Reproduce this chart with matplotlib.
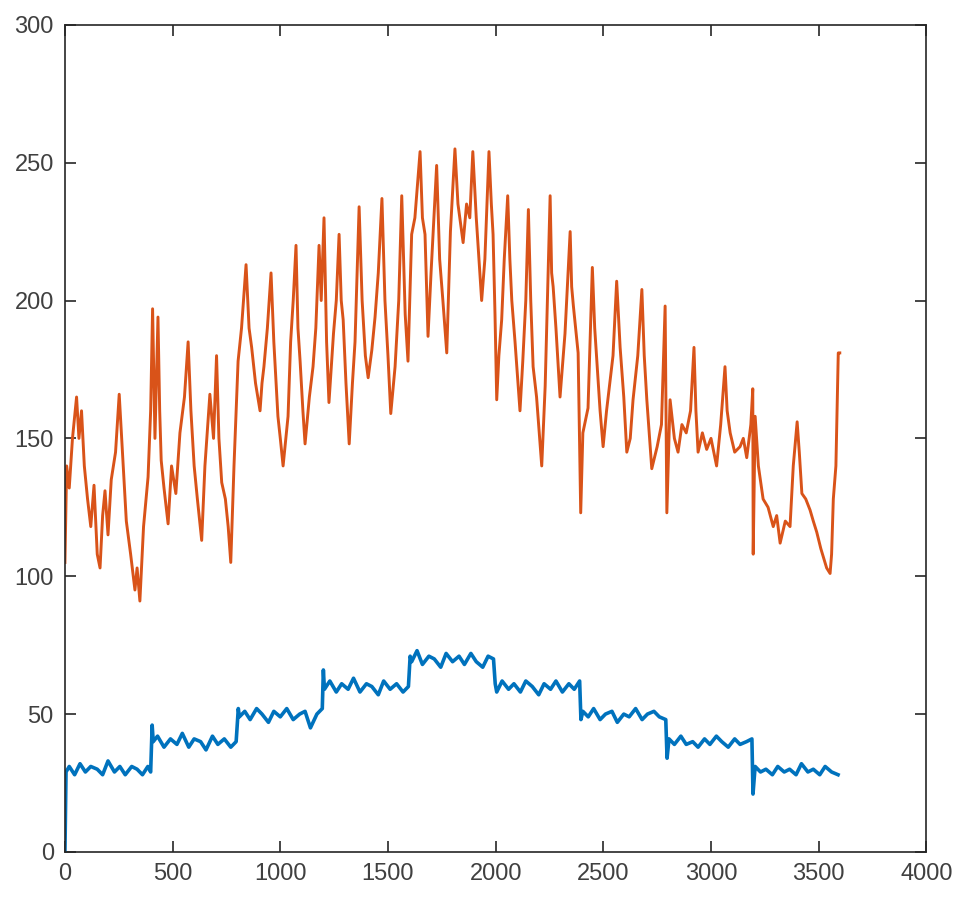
import matplotlib
matplotlib.use("Agg")
import matplotlib.pyplot as plt

# Stepped reference signal (blue)
blue_x = [0, 5, 20, 45, 70, 95, 120, 150, 175, 200, 230, 255, 280, 310, 335, 360, 385, 398,
          405, 410, 430, 460, 490, 520, 545, 575, 600, 630, 655, 685, 710, 740, 770, 795,
          805, 810, 835, 860, 890, 915, 945, 970, 1000, 1030, 1060, 1090, 1115, 1140, 1170, 1195,
          1200, 1205, 1230, 1260, 1285, 1315, 1340, 1370, 1400, 1425, 1455, 1480, 1510, 1540, 1570, 1595,
          1603, 1610, 1635, 1660, 1690, 1715, 1745, 1770, 1800, 1830, 1855, 1885, 1910, 1940, 1965, 1990,
          1998, 2005, 2030, 2060, 2085, 2115, 2140, 2170, 2200, 2225, 2255, 2280, 2310, 2340, 2365, 2390,
          2396, 2405, 2430, 2455, 2485, 2510, 2540, 2565, 2595, 2620, 2650, 2680, 2705, 2735, 2760, 2790,
          2796, 2805, 2830, 2860, 2885, 2915, 2940, 2970, 2995, 3025, 3050, 3080, 3110, 3135, 3165, 3190,
          3195, 3205, 3230, 3255, 3285, 3310, 3340, 3365, 3395, 3420, 3450, 3475, 3505, 3530, 3560, 3590]
blue_y = [0, 29, 31, 28, 32, 29, 31, 30, 28, 33, 29, 31, 28, 31, 30, 28, 31, 29,
          46, 40, 42, 38, 41, 39, 43, 38, 41, 40, 37, 42, 39, 41, 38, 40,
          52, 49, 51, 48, 52, 50, 47, 51, 49, 52, 48, 50, 51, 45, 50, 52,
          66, 59, 62, 58, 61, 59, 63, 58, 61, 60, 57, 62, 59, 61, 58, 60,
          71, 69, 73, 68, 71, 70, 67, 72, 69, 71, 68, 72, 69, 67, 71, 70,
          61, 58, 62, 59, 61, 58, 62, 60, 57, 61, 59, 62, 58, 61, 59, 62,
          48, 51, 49, 52, 48, 50, 51, 47, 50, 49, 52, 48, 50, 51, 49, 48,
          34, 41, 39, 42, 39, 40, 38, 41, 39, 42, 40, 38, 41, 39, 40, 41,
          21, 31, 29, 30, 28, 31, 29, 30, 28, 32, 29, 30, 28, 31, 29, 28]

# Measured response (orange)
orange_x = [0, 8, 20, 35, 54, 65, 77, 90, 105, 120, 135, 150, 163, 175, 186, 200, 215, 235,
            252, 265, 285, 305, 325, 335, 348, 365, 386, 398, 407, 418, 432, 440, 447, 460,
            479, 495, 515, 534, 555, 572, 585, 600, 615, 635, 650, 673, 690, 704, 715, 728,
            745, 758, 770, 785, 804, 820, 841, 855, 867, 885, 906, 915, 924, 940, 957, 970,
            989, 1000, 1013, 1036, 1048, 1060, 1073, 1082, 1092, 1105, 1115, 1135, 1152, 1165,
            1180, 1190, 1203, 1215, 1226, 1247, 1260, 1273, 1283, 1292, 1305, 1320, 1335, 1347,
            1366, 1380, 1395, 1408, 1425, 1440, 1455, 1472, 1486, 1500, 1513, 1533, 1550, 1564,
            1580, 1593, 1610, 1625, 1649, 1660, 1672, 1686, 1700, 1726, 1740, 1755, 1773, 1790,
            1811, 1825, 1849, 1865, 1880, 1894, 1910, 1935, 1950, 1969, 1980, 1988, 1997, 2005,
            2015, 2028, 2040, 2056, 2066, 2075, 2090, 2113, 2126, 2140, 2152, 2163, 2174, 2190,
            2214, 2230, 2253, 2260, 2267, 2280, 2299, 2322, 2346, 2353, 2361, 2383, 2395, 2405,
            2429, 2449, 2460, 2470, 2485, 2499, 2515, 2530, 2545, 2562, 2578, 2595, 2609, 2625,
            2638, 2660, 2679, 2690, 2702, 2725, 2750, 2770, 2787, 2795, 2810, 2830, 2847, 2865,
            2885, 2905, 2921, 2930, 2940, 2960, 2980, 3000, 3026, 3045, 3065, 3075, 3089, 3110,
            3135, 3150, 3166, 3185, 3194, 3196, 3205, 3220, 3242, 3265, 3289, 3305, 3321, 3345,
            3367, 3382, 3400, 3410, 3422, 3440, 3460, 3475, 3491, 3510, 3537, 3553, 3560, 3568,
            3580, 3591, 3598]
orange_y = [105, 140, 132, 150, 165, 150, 160, 140, 128, 118, 133, 108, 103, 122, 131, 115, 135, 145,
            166, 148, 120, 108, 95, 103, 91, 118, 136, 160, 197, 150, 194, 160, 142, 132,
            119, 140, 130, 152, 165, 185, 160, 140, 128, 113, 140, 166, 150, 180, 150, 134,
            128, 118, 105, 140, 178, 190, 213, 190, 183, 170, 160, 170, 176, 190, 210, 185,
            158, 150, 140, 158, 185, 200, 220, 190, 178, 160, 148, 165, 176, 190,
            220, 200, 230, 185, 163, 188, 200, 224, 200, 193, 170, 148, 170, 185,
            234, 200, 180, 172, 182, 194, 210, 237, 200, 180, 159, 176, 200, 238,
            195, 178, 224, 230, 254, 230, 224, 187, 210, 249, 215, 200, 181, 225,
            255, 235, 221, 235, 230, 254, 230, 200, 215, 254, 235, 224, 195, 164,
            180, 193, 215, 238, 215, 200, 185, 160, 178, 200, 233, 200, 176, 165,
            140, 169, 238, 210, 205, 190, 165, 188, 225, 205, 198, 181, 123, 152,
            161, 212, 190, 178, 160, 147, 160, 170, 180, 207, 183, 165, 145, 150,
            164, 180, 204, 180, 164, 139, 147, 155, 198, 123, 164, 150, 145, 155,
            152, 160, 183, 160, 145, 152, 146, 150, 140, 155, 176, 160, 152, 145,
            147, 150, 143, 155, 168, 108, 158, 140, 128, 125, 118, 122, 112, 120,
            118, 140, 156, 145, 130, 128, 124, 120, 116, 110, 103, 101, 108, 128,
            140, 181, 181]

plt.rcParams["font.family"] = ["Liberation Sans", "DejaVu Sans"]

fig = plt.figure(figsize=(9.55, 9.02), dpi=100)
ax = fig.add_axes([0.068, 0.0555, 0.902, 0.917])

ax.plot(blue_x, blue_y, color="#0072BD", lw=2.6)
ax.plot(orange_x, orange_y, color="#D95319", lw=2.1)

ax.set_xlim(0, 4000)
ax.set_ylim(0, 300)
ax.set_xticks(range(0, 4001, 500))
ax.set_yticks(range(0, 301, 50))

for side in ax.spines.values():
    side.set_linewidth(1.2)
    side.set_color("#262626")
ax.tick_params(direction="in", top=True, right=True, length=8, width=1.2,
               colors="#262626", labelsize=17, labelcolor="#404040", pad=8)

fig.savefig("out.png", dpi=100)
